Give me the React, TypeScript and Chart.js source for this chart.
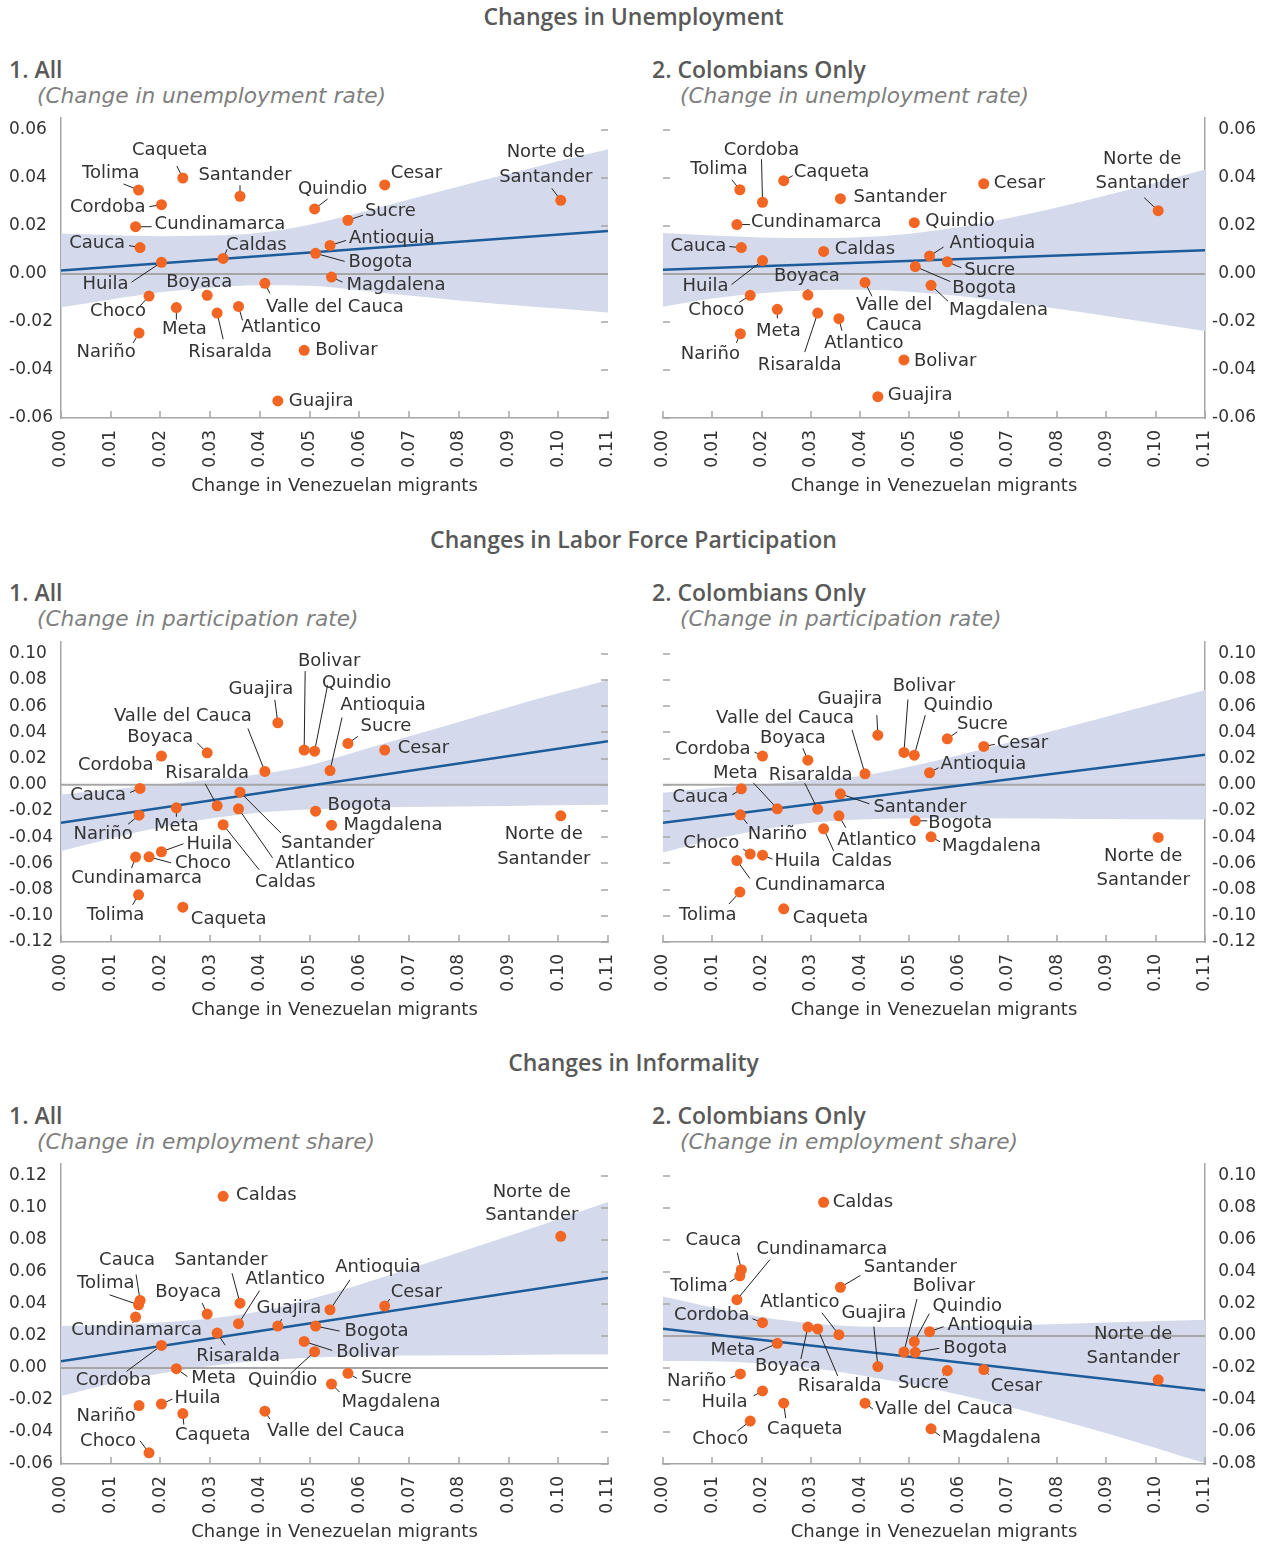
import React, { useEffect, useRef } from 'react';
import { Chart, registerables } from 'chart.js';

Chart.register(...registerables);

// ---------------- DATA ----------------
const regions = ['Antioquia', 'Atlantico', 'Bogota', 'Bolivar', 'Boyaca', 'Caldas', 'Caqueta', 'Cauca', 'Cesar', 'Choco', 'Cordoba', 'Cundinamarca', 'Guajira', 'Huila', 'Magdalena', 'Meta', 'Nariño', 'Norte de Santander', 'Quindio', 'Risaralda', 'Santander', 'Sucre', 'Tolima', 'Valle del Cauca'];

// Change in Venezuelan migrants (x)
const migrants = [0.0541, 0.0357, 0.0512, 0.0489, 0.0294, 0.0326, 0.0245, 0.0159, 0.0651, 0.0177, 0.0202, 0.0150, 0.0436, 0.0202, 0.0544, 0.0232, 0.0157, 0.1005, 0.0510, 0.0314, 0.0360, 0.0577, 0.0156, 0.0410];

const unempAll = [0.0119, -0.0135, 0.0086, -0.0318, -0.0089, 0.0065, 0.0400, 0.0110, 0.0371, -0.0092, 0.0289, 0.0197, -0.0529, 0.0049, -0.0013, -0.0140, -0.0246, 0.0307, 0.0271, -0.0163, 0.0324, 0.0224, 0.0350, -0.0039];
const unempCol = [0.0075, -0.0186, 0.0031, -0.0358, -0.0088, 0.0094, 0.0389, 0.0110, 0.0376, -0.0089, 0.0299, 0.0206, -0.0511, 0.0056, -0.0047, -0.0147, -0.0249, 0.0264, 0.0214, -0.0163, 0.0314, 0.0051, 0.0351, -0.0035];
const lfpAll = [0.0109, -0.0183, -0.0201, 0.0265, 0.0244, -0.0305, -0.0934, -0.0028, 0.0265, -0.0550, 0.0219, -0.0552, 0.0473, -0.0511, -0.0308, -0.0176, -0.0232, -0.0237, 0.0257, -0.0160, -0.0056, 0.0316, -0.0840, 0.0102];
const lfpCol = [0.0092, -0.0237, -0.0275, 0.0247, 0.0188, -0.0336, -0.0947, -0.0031, 0.0293, -0.0529, 0.0219, -0.0578, 0.0379, -0.0537, -0.0397, -0.0183, -0.0229, -0.0402, 0.0226, -0.0186, -0.0069, 0.0351, -0.0819, 0.0084];
const infAll = [0.0364, 0.0277, 0.0262, 0.0166, 0.0337, 0.1073, -0.0285, 0.0422, 0.0387, -0.0530, 0.0141, 0.0318, 0.0262, -0.0225, -0.0100, -0.0004, -0.0235, 0.0823, 0.0102, 0.0218, 0.0405, -0.0033, 0.0395, -0.0270];
const infCol = [0.0027, 0.0008, -0.0102, -0.0100, 0.0056, 0.0836, -0.0420, 0.0414, -0.0210, -0.0532, 0.0083, 0.0227, -0.0191, -0.0343, -0.0580, -0.0046, -0.0237, -0.0274, -0.0035, 0.0044, 0.0304, -0.0216, 0.0376, -0.0420];

// fitted line, read at x = 0 and x = 0.11
const fitX = [0, 0.11];
const unempAllFit = [0.0015, 0.0179];
const unempColFit = [0.0018, 0.0099];
const lfpAllFit = [-0.0290, 0.0333];
const lfpColFit = [-0.0290, 0.0229];
const infAllFit = [0.0042, 0.0563];
const infColFit = [0.0046, -0.0339];

// confidence band edges, read at bandX
const bandX = [0, 0.01, 0.02, 0.03, 0.04, 0.05, 0.06, 0.07, 0.08, 0.09, 0.10, 0.11];
const unempAllUpper = [0.0169, 0.0162, 0.0157, 0.0160, 0.0172, 0.0205, 0.0255, 0.0310, 0.0365, 0.0418, 0.0470, 0.0520];
const unempAllLower = [-0.0139, -0.0106, -0.0076, -0.0057, -0.0047, -0.0049, -0.0068, -0.0090, -0.0110, -0.0128, -0.0144, -0.0160];
const unempColUpper = [0.0171, 0.0160, 0.0152, 0.0150, 0.0153, 0.0168, 0.0195, 0.0232, 0.0277, 0.0328, 0.0380, 0.0435];
const unempColLower = [-0.0136, -0.0102, -0.0080, -0.0068, -0.0066, -0.0074, -0.0092, -0.0117, -0.0145, -0.0175, -0.0206, -0.0238];
const lfpAllUpper = [-0.0074, -0.0035, 0.0000, 0.0038, 0.0082, 0.0150, 0.0260, 0.0370, 0.0480, 0.0592, 0.0698, 0.0800];
const lfpAllLower = [-0.0506, -0.0410, -0.0325, -0.0258, -0.0212, -0.0188, -0.0176, -0.0170, -0.0165, -0.0161, -0.0157, -0.0153];
const lfpColUpper = [-0.0061, -0.0025, 0.0005, 0.0035, 0.0068, 0.0138, 0.0225, 0.0320, 0.0420, 0.0520, 0.0620, 0.0723];
const lfpColLower = [-0.0517, -0.0420, -0.0343, -0.0290, -0.0265, -0.0257, -0.0256, -0.0257, -0.0259, -0.0261, -0.0263, -0.0265];
const infAllUpper = [0.0262, 0.0270, 0.0285, 0.0310, 0.0355, 0.0430, 0.0520, 0.0620, 0.0722, 0.0825, 0.0930, 0.1037];
const infAllLower = [-0.0175, -0.0098, -0.0035, 0.0012, 0.0045, 0.0064, 0.0073, 0.0078, 0.0080, 0.0082, 0.0084, 0.0085];
const infColUpper = [0.0247, 0.0178, 0.0118, 0.0078, 0.0060, 0.0056, 0.0060, 0.0067, 0.0075, 0.0084, 0.0093, 0.0102];
const infColLower = [-0.0156, -0.0158, -0.0172, -0.0200, -0.0245, -0.0300, -0.0365, -0.0440, -0.0522, -0.0608, -0.0700, -0.0796];

// tick labels
const xTicks = [0, 0.01, 0.02, 0.03, 0.04, 0.05, 0.06, 0.07, 0.08, 0.09, 0.10, 0.11];
const yTicksUnemp = [-0.06, -0.04, -0.02, 0, 0.02, 0.04, 0.06];
const yTicksLfp = [-0.12, -0.10, -0.08, -0.06, -0.04, -0.02, 0, 0.02, 0.04, 0.06, 0.08, 0.10];
const yTicksInfAll = [-0.06, -0.04, -0.02, 0, 0.02, 0.04, 0.06, 0.08, 0.10, 0.12];
const yTicksInfCol = [-0.08, -0.06, -0.04, -0.02, 0, 0.02, 0.04, 0.06, 0.08, 0.10];

// ---------------- LABEL PLACEMENT (pixel offsets from each point) ----------------
// [dx, dy, align, leaderDx, leaderDy, lineGap?]
type Lab = [number, number, 'l' | 'r' | 'c', number | null, number | null, number?];

const labelsUnempAll: Record<string, Lab> = {
  'Antioquia': [19, -7, 'l', 16, -5], 'Atlantico': [3, 21, 'l', 4, 14], 'Bogota': [33, 9, 'l', 29, 8],
  'Bolivar': [11, 0, 'l', null, null], 'Boyaca': [-8, -13, 'c', -2, -5], 'Caldas': [3, -13, 'l', 4, -9],
  'Caqueta': [-13, -28, 'c', -6, -12], 'Cauca': [-15, -4, 'r', -11, -2], 'Cesar': [6, -12, 'l', null, null],
  'Choco': [-3, 15, 'r', -9, 10], 'Cordoba': [-16, 3, 'r', -12, 2], 'Cundinamarca': [19, -2, 'l', 16, 0],
  'Guajira': [11, 0, 'l', null, null], 'Huila': [-33, 22, 'r', -30, 20], 'Magdalena': [15, 8, 'l', 11, 5],
  'Meta': [8, 22, 'c', 0, 12], 'Nariño': [-33, 19, 'c', -6, 10], 'Norte de Santander': [-15, -48, 'c', -9, -12, 25],
  'Quindio': [18, -20, 'c', 13, -10], 'Risaralda': [13, 39, 'c', 6, 26], 'Santander': [5, -21, 'c', 0, -11],
  'Sucre': [17, -9, 'l', 15, -5], 'Tolima': [1, -17, 'r', -15, -6], 'Valle del Cauca': [1, 24, 'l', 5, 10],
};
const labelsUnempCol: Record<string, Lab> = {
  'Antioquia': [20, -13, 'l', 14, -9], 'Atlantico': [25, 25, 'c', 3, 12], 'Bogota': [37, 22, 'l', 35, 15],
  'Bolivar': [10, 1, 'l', null, null], 'Boyaca': [-1, -19, 'c', 0, -6], 'Caldas': [11, -2, 'l', null, null],
  'Caqueta': [10, -8, 'l', 9, -5], 'Cauca': [-15, -1, 'r', -12, -1], 'Cesar': [10, 0, 'l', null, null],
  'Choco': [-6, 15, 'r', -11, 7], 'Cordoba': [-1, -52, 'c', -1, -43], 'Cundinamarca': [14, -2, 'l', 13, 0],
  'Guajira': [10, -1, 'l', null, null], 'Huila': [-34, 26, 'r', -31, 24], 'Magdalena': [18, 25, 'l', 17, 16],
  'Meta': [1, 22, 'c', 0, 9], 'Nariño': [-30, 21, 'c', -4, 9], 'Norte de Santander': [-16, -51, 'c', -14, -13, 24],
  'Quindio': [11, -1, 'l', null, null], 'Risaralda': [-18, 52, 'c', -13, 39], 'Santander': [13, -1, 'l', null, null],
  'Sucre': [17, 9, 'l', 14, 6], 'Tolima': [8, -20, 'r', -8, -10], 'Valle del Cauca': [29, 23, 'c', 7, 14, 20],
};
const labelsLfpAll: Record<string, Lab> = {
  'Antioquia': [53, -65, 'c', 12, -53], 'Atlantico': [37, 55, 'l', 34, 49], 'Bogota': [12, -6, 'l', null, null],
  'Bolivar': [25, -89, 'c', 1, -79], 'Boyaca': [-47, -16, 'c', -10, -10], 'Caldas': [32, 58, 'l', 36, 45],
  'Caqueta': [8, 12, 'l', null, null], 'Cauca': [-14, 7, 'r', -10, 4], 'Cesar': [13, -2, 'l', null, null],
  'Choco': [26, 6, 'l', 22, 6], 'Cordoba': [-8, 9, 'r', -5, 4], 'Cundinamarca': [1, 21, 'c', -4, 11],
  'Guajira': [-17, -34, 'c', -3, -23], 'Huila': [25, -7, 'l', 22, -8], 'Magdalena': [12, 0, 'l', null, null],
  'Meta': [0, 18, 'c', 0, 9], 'Nariño': [-36, 19, 'c', -11, 9], 'Norte de Santander': [-17, 18, 'c', null, null, 25],
  'Quindio': [42, -68, 'c', 13, -66], 'Risaralda': [-10, -32, 'c', -12, -22], 'Santander': [41, 51, 'l', 41, 41],
  'Sucre': [38, -17, 'c', 10, -7], 'Tolima': [-23, 20, 'c', -6, 10], 'Valle del Cauca': [-82, -55, 'c', -17, -43],
};
const labelsLfpCol: Record<string, Lab> = {
  'Antioquia': [11, -8, 'l', 9, -5], 'Atlantico': [38, 24, 'c', 7, 12], 'Bogota': [13, 3, 'l', 12, 0],
  'Bolivar': [20, -66, 'c', 4, -53], 'Boyaca': [-15, -22, 'c', -5, -12], 'Caldas': [38, 33, 'c', 10, 22],
  'Caqueta': [9, 9, 'l', null, null], 'Cauca': [-13, 8, 'r', -9, 6], 'Cesar': [13, -3, 'l', 11, -2],
  'Choco': [-11, -11, 'r', -7, -5], 'Cordoba': [-12, -7, 'r', -8, -4], 'Cundinamarca': [18, 25, 'l', 13, 18],
  'Guajira': [-28, -36, 'c', -1, -20], 'Huila': [12, 6, 'l', 10, 4], 'Magdalena': [11, 10, 'l', 9, 5],
  'Meta': [-42, -35, 'c', -24, -26], 'Nariño': [37, 20, 'c', 7, 9], 'Norte de Santander': [-15, 19, 'c', null, null, 24],
  'Quindio': [44, -50, 'c', 11, -40], 'Risaralda': [-7, -34, 'c', -13, -26], 'Santander': [33, 13, 'l', 29, 10],
  'Sucre': [35, -14, 'c', 10, -7], 'Tolima': [-32, 23, 'c', -11, 12], 'Valle del Cauca': [-80, -55, 'c', -13, -44],
};
const labelsInfAll: Record<string, Lab> = {
  'Antioquia': [48, -42, 'c', 20, -30], 'Atlantico': [7, -44, 'l', 21, -33], 'Bogota': [29, 5, 'l', 24, 5],
  'Bolivar': [32, 11, 'l', 28, 9], 'Boyaca': [-19, -22, 'c', -5, -11], 'Caldas': [13, -1, 'l', null, null],
  'Caqueta': [30, 22, 'c', 1, 11], 'Cauca': [-13, -40, 'c', -4, -26], 'Cesar': [6, -14, 'l', 5, -7],
  'Choco': [-13, -11, 'r', -9, -12], 'Cordoba': [-48, 35, 'c', -35, 26], 'Cundinamarca': [1, 13, 'c', -3, 6],
  'Guajira': [11, -18, 'c', 4, -7], 'Huila': [13, -6, 'l', 11, -5], 'Magdalena': [10, 18, 'l', 8, 8],
  'Meta': [15, 10, 'l', 11, 8], 'Nariño': [-33, 11, 'c', -5, 4], 'Norte de Santander': [-29, -44, 'c', null, null, 23],
  'Quindio': [-32, 29, 'c', -24, 22], 'Risaralda': [21, 23, 'c', 8, 12], 'Santander': [-19, -43, 'c', -8, -30],
  'Sucre': [13, 5, 'l', 9, 5], 'Tolima': [-4, -21, 'r', -29, -10], 'Valle del Cauca': [2, 20, 'l', 5, 8],
};
const labelsInfCol: Record<string, Lab> = {
  'Antioquia': [18, -6, 'l', 14, -5], 'Atlantico': [-39, -32, 'c', -17, -22], 'Bogota': [28, -4, 'l', 24, -4],
  'Bolivar': [40, -66, 'c', 13, -53], 'Boyaca': [-20, 39, 'c', -7, 32], 'Caldas': [9, 0, 'l', null, null],
  'Caqueta': [21, 26, 'c', 2, 15], 'Cauca': [-28, -29, 'c', -4, -17], 'Cesar': [7, 17, 'l', 5, 5],
  'Choco': [-30, 18, 'c', -13, 10], 'Cordoba': [-13, -7, 'r', -10, -4], 'Cundinamarca': [85, -50, 'c', 33, -40],
  'Guajira': [-4, -53, 'c', -4, -40], 'Huila': [-15, 11, 'r', -9, 5], 'Magdalena': [11, 10, 'l', 9, 7],
  'Meta': [-22, 7, 'r', -18, 8], 'Nariño': [-14, 7, 'r', -10, 4], 'Norte de Santander': [-25, -46, 'c', null, null, 24],
  'Quindio': [53, -35, 'c', 15, -28], 'Risaralda': [22, 57, 'c', 20, 47], 'Santander': [70, -20, 'c', 20, -12],
  'Sucre': [-24, 13, 'c', -4, 5], 'Tolima': [-12, 10, 'r', -10, 6], 'Valle del Cauca': [10, 6, 'l', 8, 6],
};

// ---------------- STYLE ----------------
const FONT = '"DejaVu Sans", sans-serif';
const ORANGE = '#f26522';
const BLUE = '#1d5c9b';
const BAND = '#d4daeb';
const AXIS = '#a6a6a6';
const TEXT = '#333333';
const CW = 630;
const CH = 400;

interface PanelProps {
  side: 'left' | 'right';
  top: number;
  values: number[];
  fit: number[];
  upper: number[];
  lower: number[];
  min: number;
  max: number;
  yTicks: number[];
  labels: Record<string, Lab>;
}

function Panel(p: PanelProps) {
  const ref = useRef<HTMLCanvasElement>(null);
  useEffect(() => {
    const isLeft = p.side === 'left';
    const plugin = {
      id: 'annot',
      beforeDatasetDraw(chart: any, args: any) {
        const { ctx, chartArea: a } = chart;
        const xs = chart.scales.x, ys = chart.scales.y;
        if (args.index === 1) {
          const zy = ys.getPixelForValue(0);
          ctx.save();
          ctx.strokeStyle = AXIS;
          ctx.lineWidth = 2;
          ctx.beginPath();
          ctx.moveTo(a.left, zy);
          ctx.lineTo(a.right, zy);
          ctx.stroke();
          ctx.restore();
        }
        if (args.index === 0) {
          ctx.save();
          ctx.strokeStyle = '#222';
          ctx.lineWidth = 1;
          regions.forEach((name, i) => {
            const s = p.labels[name];
            if (!s || s[3] === null || s[4] === null) return;
            const px = xs.getPixelForValue(migrants[i]);
            const py = ys.getPixelForValue(p.values[i]);
            ctx.beginPath();
            ctx.moveTo(px, py);
            ctx.lineTo(px + (s[3] as number), py + (s[4] as number));
            ctx.stroke();
          });
          ctx.restore();
        }
      },
      afterDatasetsDraw(chart: any) {
        const { ctx } = chart;
        const xs = chart.scales.x, ys = chart.scales.y;
        ctx.save();
        ctx.font = `18px ${FONT}`;
        ctx.fillStyle = TEXT;
        ctx.textBaseline = 'middle';
        regions.forEach((name, i) => {
          const s = p.labels[name];
          if (!s) return;
          const px = xs.getPixelForValue(migrants[i]);
          const py = ys.getPixelForValue(p.values[i]);
          ctx.textAlign = s[2] === 'l' ? 'left' : s[2] === 'r' ? 'right' : 'center';
          let lines = [name];
          if (s[5]) {
            const k = name.lastIndexOf(' ');
            lines = [name.slice(0, k), name.slice(k + 1)];
          }
          lines.forEach((t, j) => ctx.fillText(t, px + s[0], py + s[1] + j * (s[5] || 0)));
        });
        ctx.restore();
      },
      afterDraw(chart: any) {
        const { ctx, chartArea: a } = chart;
        const xs = chart.scales.x, ys = chart.scales.y;
        ctx.save();
        // inward tick marks
        ctx.strokeStyle = AXIS;
        ctx.lineWidth = 1.5;
        ctx.beginPath();
        xTicks.forEach((v) => {
          const px = Math.round(xs.getPixelForValue(v));
          ctx.moveTo(px, a.bottom);
          ctx.lineTo(px, a.bottom - 7);
        });
        p.yTicks.forEach((v) => {
          const py = Math.round(ys.getPixelForValue(v));
          if (isLeft) {
            ctx.moveTo(a.right - 7, py);
            ctx.lineTo(a.right, py);
          } else {
            ctx.moveTo(a.left, py);
            ctx.lineTo(a.left + 7, py);
          }
        });
        ctx.stroke();
        // tick labels
        ctx.fillStyle = TEXT;
        ctx.font = `17px ${FONT}`;
        ctx.textBaseline = 'middle';
        xTicks.forEach((v) => {
          const px = xs.getPixelForValue(v);
          ctx.save();
          ctx.translate(px, a.bottom + 12);
          ctx.rotate(-Math.PI / 2);
          ctx.textAlign = 'right';
          ctx.fillText(v.toFixed(2), 0, 0);
          ctx.restore();
        });
        ctx.textAlign = isLeft ? 'left' : 'right';
        const lx = isLeft ? 9 : CW - 11;
        p.yTicks.forEach((v) => {
          ctx.fillText(v.toFixed(2), lx, ys.getPixelForValue(v));
        });
        ctx.restore();
      },
    };

    const chart = new Chart(ref.current as HTMLCanvasElement, {
      type: 'scatter',
      data: {
        datasets: [
          {
            data: migrants.map((x, i) => ({ x, y: p.values[i] })),
            backgroundColor: ORANGE,
            borderWidth: 0,
            pointRadius: 5.5,
            pointHoverRadius: 5.5,
          },
          {
            type: 'line',
            data: fitX.map((x, i) => ({ x, y: p.fit[i] })),
            borderColor: BLUE,
            borderWidth: 2.5,
            pointRadius: 0,
            showLine: true,
            fill: false,
          },
          {
            type: 'line',
            data: bandX.map((x, i) => ({ x, y: p.lower[i] })),
            borderColor: 'rgba(0,0,0,0)',
            borderWidth: 0,
            pointRadius: 0,
            showLine: true,
            fill: false,
            cubicInterpolationMode: 'monotone',
          },
          {
            type: 'line',
            data: bandX.map((x, i) => ({ x, y: p.upper[i] })),
            borderColor: 'rgba(0,0,0,0)',
            borderWidth: 0,
            pointRadius: 0,
            showLine: true,
            fill: '-1',
            backgroundColor: BAND,
            cubicInterpolationMode: 'monotone',
          },
        ] as any,
      },
      options: {
        animation: false,
        responsive: false,
        events: [],
        layout: {
          padding: isLeft ? { left: 9, right: 22, top: 8, bottom: 0 } : { left: 26, right: 11, top: 8, bottom: 0 },
        },
        plugins: { legend: { display: false }, tooltip: { enabled: false } },
        scales: {
          x: {
            type: 'linear',
            min: 0,
            max: 0.11,
            afterFit: (s: any) => { s.height = 92; },
            grid: { display: false, drawTicks: false },
            border: { display: true, color: AXIS, width: 1.5 },
            ticks: { display: false },
            title: {
              display: true,
              text: 'Change in Venezuelan migrants',
              color: TEXT,
              font: { family: FONT, size: 18 },
              padding: { top: 0, bottom: 13 },
            },
          },
          y: {
            type: 'linear',
            position: isLeft ? 'left' : 'right',
            min: p.min,
            max: p.max,
            afterFit: (s: any) => { s.width = isLeft ? 52 : 51; },
            grid: { display: false, drawTicks: false },
            border: { display: true, color: AXIS, width: 1.5 },
            ticks: { display: false },
          },
        },
      } as any,
      plugins: [plugin],
    });
    return () => chart.destroy();
  }, []);

  const left = p.side === 'left' ? 0 : 637;
  return (
    <canvas
      ref={ref}
      width={CW}
      height={CH}
      style={{ position: 'absolute', left, top: p.top, width: CW, height: CH }}
    />
  );
}

const sections = [
  { title: 'Changes in Unemployment', sub: '(Change in unemployment rate)', ty: 16, hy: 69, sy: 96 },
  { title: 'Changes in Labor Force Participation', sub: '(Change in participation rate)', ty: 539, hy: 592, sy: 619 },
  { title: 'Changes in Informality', sub: '(Change in employment share)', ty: 1062, hy: 1115, sy: 1142 },
];

const panels: PanelProps[] = [
  { side: 'left', top: 110, values: unempAll, fit: unempAllFit, upper: unempAllUpper, lower: unempAllLower, min: -0.06, max: 0.065, yTicks: yTicksUnemp, labels: labelsUnempAll },
  { side: 'right', top: 110, values: unempCol, fit: unempColFit, upper: unempColUpper, lower: unempColLower, min: -0.06, max: 0.065, yTicks: yTicksUnemp, labels: labelsUnempCol },
  { side: 'left', top: 634, values: lfpAll, fit: lfpAllFit, upper: lfpAllUpper, lower: lfpAllLower, min: -0.12, max: 0.109, yTicks: yTicksLfp, labels: labelsLfpAll },
  { side: 'right', top: 634, values: lfpCol, fit: lfpColFit, upper: lfpColUpper, lower: lfpColLower, min: -0.12, max: 0.109, yTicks: yTicksLfp, labels: labelsLfpCol },
  { side: 'left', top: 1156, values: infAll, fit: infAllFit, upper: infAllUpper, lower: infAllLower, min: -0.06, max: 0.1275, yTicks: yTicksInfAll, labels: labelsInfAll },
  { side: 'right', top: 1156, values: infCol, fit: infColFit, upper: infColUpper, lower: infColLower, min: -0.08, max: 0.1075, yTicks: yTicksInfCol, labels: labelsInfCol },
];

const headStyle: React.CSSProperties = {
  position: 'absolute',
  height: 30,
  lineHeight: '30px',
  whiteSpace: 'nowrap',
  fontFamily: '"Open Sans", sans-serif',
  fontWeight: 600,
  fontSize: 23,
  color: '#595959',
};
const subStyle: React.CSSProperties = {
  position: 'absolute',
  height: 30,
  lineHeight: '30px',
  whiteSpace: 'nowrap',
  fontFamily: FONT,
  fontStyle: 'italic',
  fontSize: 21.7,
  color: '#7f7f7f',
};

export default function App() {
  useEffect(() => {
    document.body.style.margin = '0';
  }, []);
  return (
    <div style={{ position: 'absolute', left: 0, top: 0, width: 1267, height: 1547, background: '#fff', overflow: 'hidden' }}>
      {sections.map((s, i) => (
        <React.Fragment key={i}>
          <div style={{ ...headStyle, left: 0, width: 1267, textAlign: 'center', top: s.ty - 15 }}>{s.title}</div>
          <div style={{ ...headStyle, left: 9, top: s.hy - 15 }}>1. All</div>
          <div style={{ ...headStyle, left: 652, top: s.hy - 15 }}>2. Colombians Only</div>
          <div style={{ ...subStyle, left: 37, top: s.sy - 15 }}>{s.sub}</div>
          <div style={{ ...subStyle, left: 680, top: s.sy - 15 }}>{s.sub}</div>
        </React.Fragment>
      ))}
      {panels.map((p, i) => (
        <Panel key={i} {...p} />
      ))}
    </div>
  );
}
